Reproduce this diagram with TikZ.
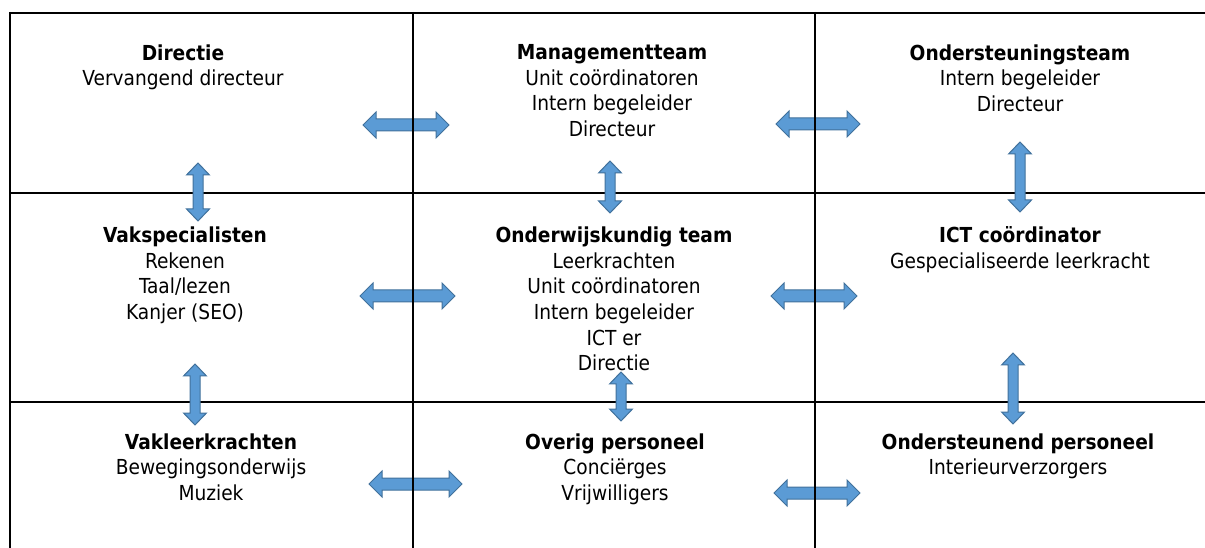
\documentclass[tikz,border=0pt]{standalone}
\usepackage{fontspec}
\IfFontExistsTF{DejaVu Sans Condensed}{\setmainfont{DejaVu Sans Condensed}}{\setmainfont{DejaVu Sans}}
\usetikzlibrary{calc}
\newlength{\du}
\setlength{\du}{0.75pt}
\definecolor{arrowfill}{rgb}{0.357, 0.608, 0.835}
\definecolor{arrowline}{rgb}{0.255, 0.443, 0.612}
\tikzset{
  blockarrow/.style={fill=arrowfill, draw=arrowline, line width=1\du, line join=miter},
  cell/.style={anchor=north, align=center, inner sep=0pt, font=\fontsize{15.5}{19.2}\selectfont}
}
% double block arrow, left tip #1, right tip #2
\newcommand{\hblockarrow}[2]{%
\filldraw[blockarrow] (#1)--($(#1)+(13\du,-13\du)$)--($(#1)+(13\du,-6\du)$)--($(#2)+(-13\du,-6\du)$)--($(#2)+(-13\du,-13\du)$)--(#2)--($(#2)+(-13\du,13\du)$)--($(#2)+(-13\du,6\du)$)--($(#1)+(13\du,6\du)$)--($(#1)+(13\du,13\du)$)--cycle;}
% double block arrow, top tip #1, bottom tip #2
\newcommand{\vblockarrow}[2]{%
\filldraw[blockarrow] (#1)--($(#1)+(11.5\du,12\du)$)--($(#1)+(5\du,12\du)$)--($(#2)+(5\du,-12\du)$)--($(#2)+(11.5\du,-12\du)$)--(#2)--($(#2)+(-11.5\du,-12\du)$)--($(#2)+(-5\du,-12\du)$)--($(#1)+(-5\du,12\du)$)--($(#1)+(-11.5\du,12\du)$)--cycle;}

\begin{document}
\begin{tikzpicture}
\pgftransformxscale{1.000000}
\pgftransformyscale{-1.000000}
\useasboundingbox (0\du,0\du) rectangle (1205\du,548\du);
\pgfsetlinewidth{2\du}
\pgfsetdash{}{0pt}
\pgfsetmiterjoin
% horizontal rules
\draw (9\du,13\du)--(1205\du,13\du);
\draw (9\du,193\du)--(1205\du,193\du);
\draw (9\du,402\du)--(1205\du,402\du);
% texts
\node[cell] (directie) at (183\du,43.5\du){\textbf{Directie}\\Vervangend directeur};
\node[cell] (mt) at (612\du,43.5\du){\textbf{Managementteam}\\Unit coördinatoren\\Intern begeleider\\Directeur};
\node[cell] (ot) at (1020\du,43.5\du){\textbf{Ondersteuningsteam}\\Intern begeleider\\Directeur};
\node[cell] (vakspec) at (185\du,226\du){\textbf{Vakspecialisten}\\Rekenen\\Taal/lezen\\Kanjer (SEO)};
\node[cell] (owt) at (614\du,226\du){\textbf{Onderwijskundig team}\\Leerkrachten\\Unit coördinatoren\\Intern begeleider\\ICT er\\Directie};
\node[cell] (ict) at (1020\du,226\du){\textbf{ICT coördinator}\\Gespecialiseerde leerkracht};
\node[cell] (vakleer) at (211\du,432.5\du){\textbf{Vakleerkrachten}\\Bewegingsonderwijs\\Muziek};
\node[cell] (overig) at (615\du,432.5\du){\textbf{Overig personeel}\\Conciërges\\Vrijwilligers};
\node[cell] (ondpers) at (1018\du,432.5\du){\textbf{Ondersteunend personeel}\\Interieurverzorgers};
% arrow ends
\coordinate (directie-mt) at (363\du,125\du);
\coordinate (mt-directie) at (449\du,125\du);
\coordinate (mt-ot) at (776\du,124\du);
\coordinate (ot-mt) at (860\du,124\du);
\coordinate (directie-vakspec) at (198\du,163\du);
\coordinate (vakspec-directie) at (198\du,221\du);
\coordinate (mt-owt) at (610\du,161\du);
\coordinate (owt-mt) at (610\du,213\du);
\coordinate (ot-ict) at (1020\du,142\du);
\coordinate (ict-ot) at (1020\du,212\du);
\coordinate (vakspec-owt) at (360\du,296\du);
\coordinate (owt-vakspec) at (455\du,296\du);
\coordinate (owt-ict) at (771\du,296\du);
\coordinate (ict-owt) at (857\du,296\du);
\coordinate (vakspec-vakleer) at (195\du,364\du);
\coordinate (vakleer-vakspec) at (195\du,425\du);
\coordinate (owt-overig) at (621\du,372\du);
\coordinate (overig-owt) at (621\du,421\du);
\coordinate (ict-ondpers) at (1013\du,353\du);
\coordinate (ondpers-ict) at (1013\du,424\du);
\coordinate (vakleer-overig) at (369\du,484\du);
\coordinate (overig-vakleer) at (462\du,484\du);
\coordinate (overig-ondpers) at (774\du,493\du);
\coordinate (ondpers-overig) at (860\du,493\du);
% arrows
\hblockarrow{directie-mt}{mt-directie}
\hblockarrow{mt-ot}{ot-mt}
\vblockarrow{directie-vakspec}{vakspec-directie}
\vblockarrow{mt-owt}{owt-mt}
\vblockarrow{ot-ict}{ict-ot}
\hblockarrow{vakspec-owt}{owt-vakspec}
\hblockarrow{owt-ict}{ict-owt}
\vblockarrow{vakspec-vakleer}{vakleer-vakspec}
\vblockarrow{owt-overig}{overig-owt}
\vblockarrow{ict-ondpers}{ondpers-ict}
\hblockarrow{vakleer-overig}{overig-vakleer}
\hblockarrow{overig-ondpers}{ondpers-overig}
% vertical rules
\pgfsetlinewidth{2\du}
\draw (10\du,12\du)--(10\du,548\du);
\draw (413\du,12\du)--(413\du,548\du);
\draw (815\du,12\du)--(815\du,548\du);
\end{tikzpicture}
\end{document}
